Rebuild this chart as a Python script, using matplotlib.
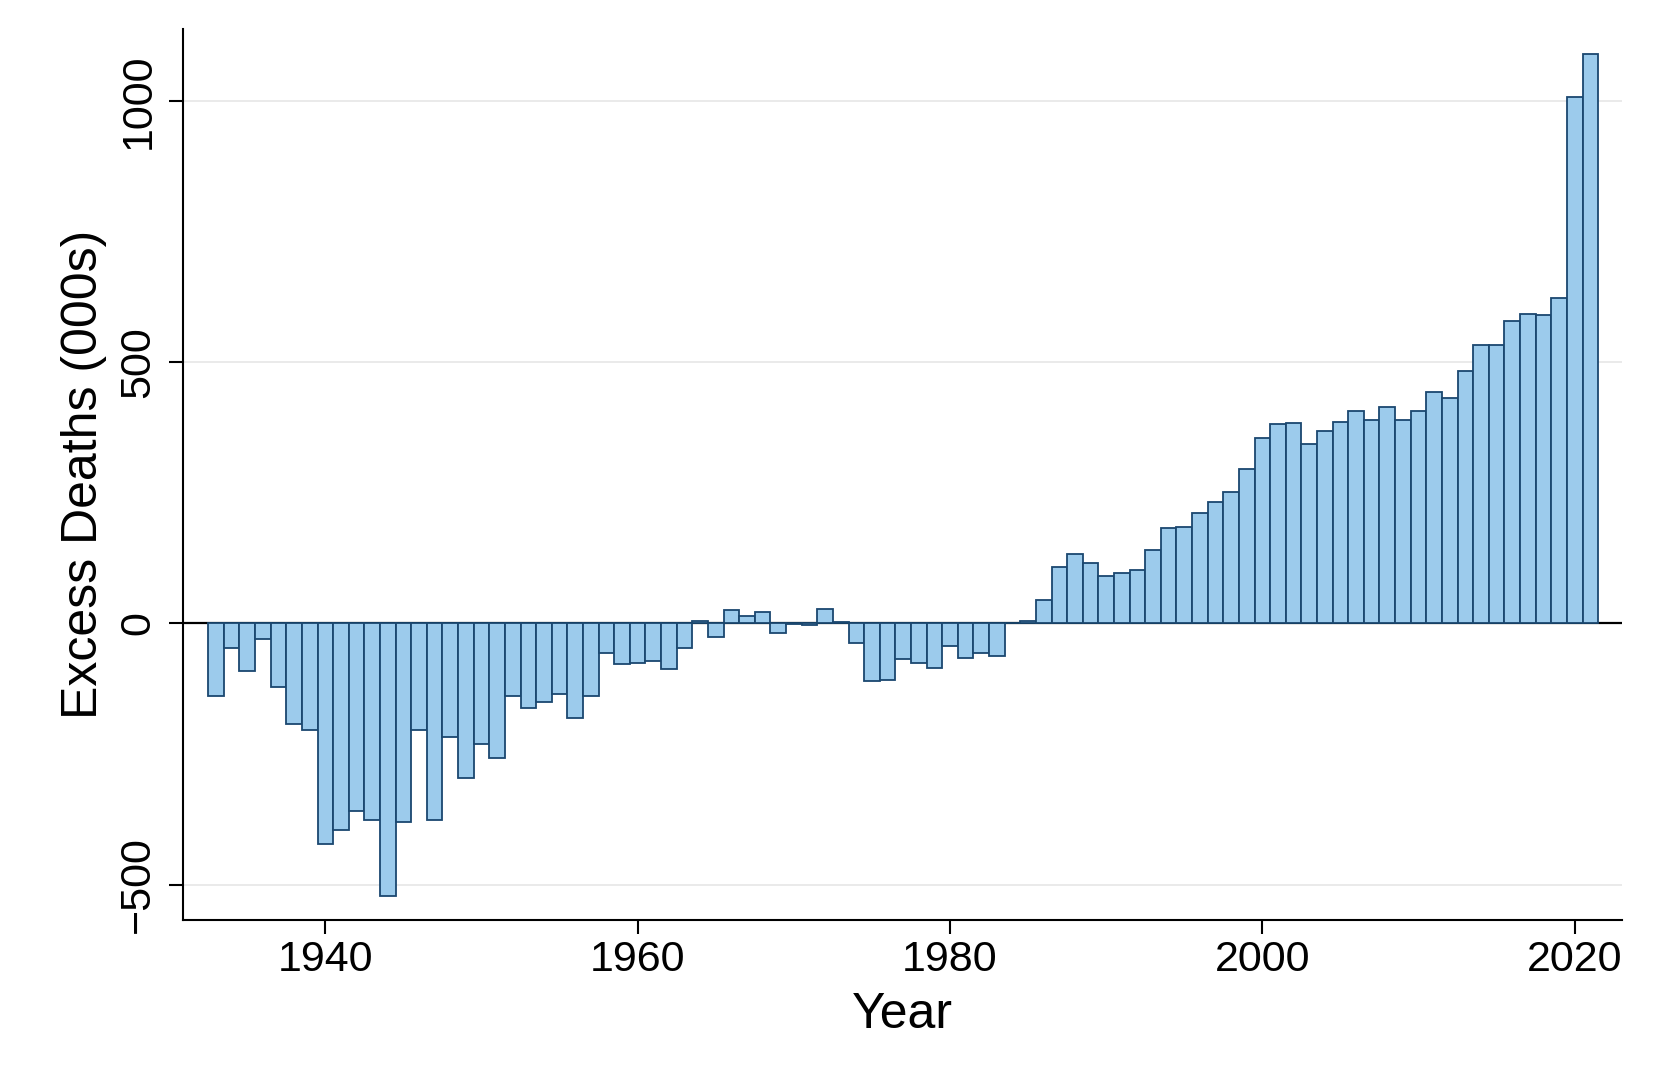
import numpy as np
import matplotlib
import matplotlib.pyplot as plt

matplotlib.use('Agg')
plt.rcParams['font.family'] = ['Liberation Sans', 'DejaVu Sans']

# 数据 (千人)
years = list(range(1933, 2022))
excess = [
    -138, -46, -90, -29, -122, -192, -203,              # 1933-1939
    -422, -396, -359, -376, -521, -379, -203, -377, -217, -295,  # 1940s
    -231, -257, -138, -161, -151, -135, -180, -139, -57, -78,    # 1950s
    -76, -71, -88, -46, 4, -26, 25, 15, 22, -19,                 # 1960s
    -1, -3, 27, 2, -37, -110, -108, -68, -76, -85,               # 1970s
    -43, -66, -56, -62, 1, 5, 44, 108, 133, 115,                 # 1980s
    90, 96, 103, 140, 183, 184, 212, 232, 252, 295,              # 1990s
    355, 382, 384, 344, 368, 385, 407, 389, 415, 389,            # 2000s
    406, 443, 431, 484, 532, 532, 579, 592, 590, 622,            # 2010s
    1008, 1090,                                                  # 2020-2021
]
xticks = [1940, 1960, 1980, 2000, 2020]
yticks = [-500, 0, 500, 1000]
grid_y = [-500, 500, 1000]

fig = plt.figure(figsize=(16.76, 10.72), dpi=100)
ax = fig.add_axes([0.1094, 0.1415, 0.8584, 0.8312])

# 网格线
for g in grid_y:
    ax.axhline(g, color='#e8e8e8', lw=1.3, zorder=0)

ax.bar(years, excess, width=1.0, color='#9ccbec', edgecolor='#1a476f',
       linewidth=1.3, zorder=2)
ax.axhline(0, color='black', lw=1.6, zorder=1.5)

ax.set_xlim(1930.91, 2023.03)
ax.set_ylim(-568, 1137)
ax.set_xticks(xticks)
ax.set_yticks(yticks)

for s in ['top', 'right']:
    ax.spines[s].set_visible(False)
for s in ['left', 'bottom']:
    ax.spines[s].set_linewidth(1.5)

ax.tick_params(axis='both', length=10, width=1.5, labelsize=31)
ax.tick_params(axis='x', pad=4)
ax.tick_params(axis='y', pad=8)
for lab in ax.get_yticklabels():
    lab.set_rotation(90)
    lab.set_va('center')

ax.set_xlabel('Year', fontsize=36, labelpad=9)
ax.set_ylabel('Excess Deaths (000s)', fontsize=36, labelpad=8)

plt.savefig('out.png', dpi=100)
